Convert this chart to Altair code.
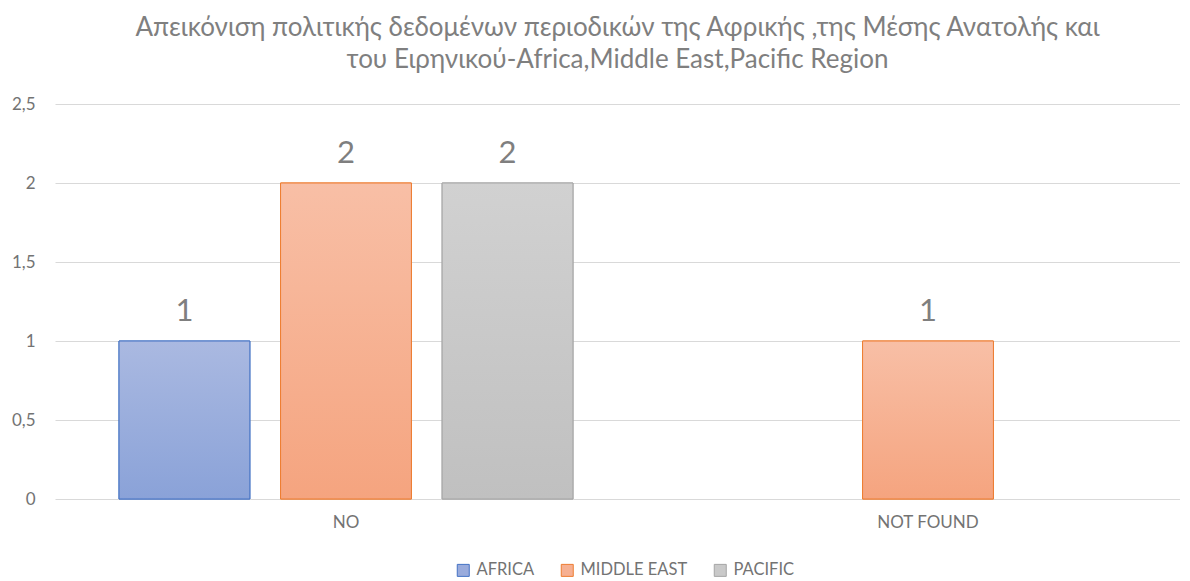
import altair as alt
import pandas as pd

# ---- data ----
categories = ["NO", "NO", "NO", "NOT FOUND"]
series = ["AFRICA", "MIDDLE EAST", "PACIFIC", "MIDDLE EAST"]
values = [1, 2, 2, 1]

category_order = ["NO", "NOT FOUND"]
series_order = ["AFRICA", "MIDDLE EAST", "PACIFIC"]
y_ticks = [0, 0.5, 1, 1.5, 2, 2.5]

title_lines = [
    "Απεικόνιση πολιτικής δεδομένων περιοδικών της Αφρικής ,της Μέσης Ανατολής και",
    "του Ειρηνικού-Africa,Middle East,Pacific Region",
]

# ---- styles ----
fill_mid = ["#99ABDC", "#F6B092", "#C9C9C9"]
stroke_cols = ["#4472C4", "#ED7D31", "#A5A5A5"]
grad_top = ["#AAB9E1", "#F8BFA6", "#D1D1D1"]
grad_bot = ["#8AA2D8", "#F5A47F", "#C0C0C0"]
FONT = "Lato, Roboto, sans-serif"
TXT = "#737373"

df = pd.DataFrame({"category": categories, "series": series, "value": values})

x_enc = alt.X(
    "category:N",
    scale=alt.Scale(domain=category_order, range=[0, 1164], paddingInner=0.22, paddingOuter=0.11),
    axis=alt.Axis(title=None, domain=False, ticks=False, labelAngle=0, labelFontSize=17,
                  labelColor=TXT, labelFont=FONT, labelPadding=15, grid=False),
)
xo_enc = alt.XOffset(
    "series:N",
    scale=alt.Scale(domain=series_order, paddingInner=0.19, paddingOuter=0),
)
y_enc = alt.Y(
    "value:Q",
    scale=alt.Scale(domain=[0, 2.5], nice=False),
    axis=alt.Axis(title=None, values=y_ticks, domain=False, ticks=False, grid=True,
                  gridColor="#D9D9D9", gridWidth=1, labelFontSize=17, labelColor=TXT,
                  labelFont=FONT, labelPadding=20,
                  labelExpr="replace(toString(datum.value), '.', ',')"),
)

legend_cfg = dict(title=None, orient="none", legendX=400, legendY=458,
                  direction="horizontal", symbolType="square", symbolSize=144,
                  symbolStrokeWidth=1, labelFontSize=16.5, labelColor=TXT,
                  labelFont=FONT, columnPadding=24, labelOffset=5)

base = alt.Chart(df)

legend_bars = base.mark_bar(strokeWidth=1).encode(
    x=x_enc, xOffset=xo_enc, y=y_enc,
    fill=alt.Fill("series:N", scale=alt.Scale(domain=series_order, range=fill_mid),
                  legend=alt.Legend(**legend_cfg)),
    stroke=alt.Stroke("series:N", scale=alt.Scale(domain=series_order, range=stroke_cols),
                      legend=alt.Legend(**legend_cfg)),
)

layers = [legend_bars]
for s, top, bot, st in zip(series_order, grad_top, grad_bot, stroke_cols):
    grad = alt.LinearGradient(
        gradient="linear",
        stops=[alt.GradientStop(color=top, offset=0), alt.GradientStop(color=bot, offset=1)],
        x1=0, x2=0, y1=0, y2=1,
    )
    layers.append(
        base.transform_filter(alt.datum.series == s)
        .mark_bar(fill=grad, stroke=st, strokeWidth=1)
        .encode(x=x_enc, xOffset=xo_enc, y=y_enc)
    )

labels = base.mark_text(dy=-20, baseline="alphabetic", fontSize=31, color="#7F7F7F", font=FONT).encode(
    x=x_enc, xOffset=xo_enc, y=y_enc, text=alt.Text("value:Q")
)
layers.append(labels)

chart = alt.layer(*layers).properties(
    width=1125,
    height=395,
    autosize="none",
    padding={"left": 47, "top": 96, "right": 0, "bottom": 84},
    title=alt.TitleParams(text=title_lines, fontSize=26, color="#7F7F7F", font=FONT,
                          fontWeight="normal", anchor="middle", offset=22, lineHeight=32),
).configure_view(stroke=None)

chart.save("out.html", embed_options={"renderer": "svg", "actions": False})
